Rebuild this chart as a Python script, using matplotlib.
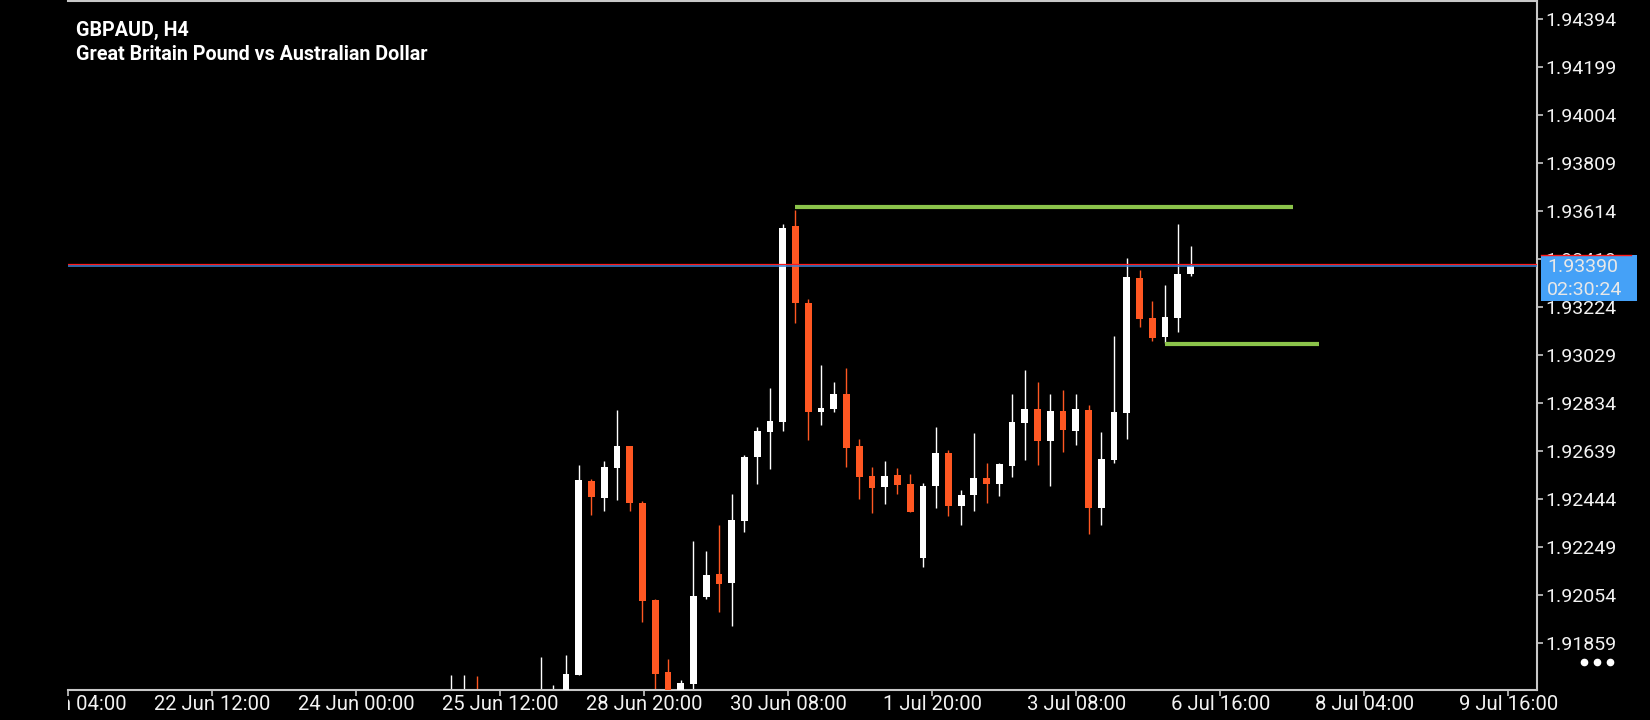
import matplotlib
matplotlib.use("Agg")
import matplotlib.pyplot as plt
import numpy as np
from matplotlib.patches import Rectangle
from matplotlib.lines import Line2D
from matplotlib.transforms import blended_transform_factory, Bbox, TransformedBbox

plt.rcParams['font.family'] = ['Roboto', 'DejaVu Sans']

symbol = "GBPAUD, H4"
description = "Great Britain Pound vs Australian Dollar"

# H4 candles, oldest first (first few sit mostly below the visible range)
opens = [1.91590, 1.91600, 1.91640, 1.91600, 1.91560, 1.91580, 1.91550, 1.91600, 1.91620, 1.91640,
         1.91729, 1.92517, 1.92449, 1.92571, 1.92659, 1.92429, 1.92034, 1.91741, 1.91640, 1.91694,
         1.92047, 1.92139, 1.92104, 1.92356, 1.92616, 1.92717, 1.92757, 1.93553, 1.93240, 1.92799,
         1.92811, 1.92871, 1.92659, 1.92537, 1.92494, 1.92542, 1.92505, 1.92206, 1.92498, 1.92631,
         1.92417, 1.92462, 1.92529, 1.92506, 1.92579, 1.92754, 1.92810, 1.92681, 1.92802, 1.92722,
         1.92806, 1.92409, 1.92604, 1.92795, 1.93342, 1.93179, 1.93103, 1.93181, 1.93359]
highs = [1.91729, 1.91729, 1.91725, 1.91650, 1.91620, 1.91640, 1.91610, 1.91802, 1.91688, 1.91810,
         1.92582, 1.92525, 1.92598, 1.92806, 1.92659, 1.92436, 1.92038, 1.91794, 1.91709, 1.92273,
         1.92233, 1.92338, 1.92464, 1.92623, 1.92737, 1.92895, 1.93561, 1.93618, 1.93257, 1.92988,
         1.92919, 1.92976, 1.92688, 1.92574, 1.92598, 1.92570, 1.92546, 1.92509, 1.92737, 1.92643,
         1.92482, 1.92712, 1.92590, 1.92590, 1.92871, 1.92968, 1.92919, 1.92871, 1.92887, 1.92871,
         1.92826, 1.92716, 1.93106, 1.93423, 1.93374, 1.93248, 1.93313, 1.93561, 1.93472]
lows = [1.91560, 1.91570, 1.91570, 1.91540, 1.91500, 1.91530, 1.91510, 1.91580, 1.91600, 1.91620,
        1.91729, 1.92379, 1.92395, 1.92440, 1.92395, 1.91946, 1.91650, 1.91610, 1.91620, 1.91665,
        1.92039, 1.91986, 1.91929, 1.92311, 1.92506, 1.92567, 1.92722, 1.93158, 1.92685, 1.92746,
        1.92799, 1.92575, 1.92445, 1.92388, 1.92425, 1.92466, 1.92393, 1.92169, 1.92409, 1.92376,
        1.92340, 1.92397, 1.92429, 1.92457, 1.92535, 1.92604, 1.92583, 1.92498, 1.92636, 1.92665,
        1.92303, 1.92340, 1.92592, 1.92689, 1.93144, 1.93087, 1.93079, 1.93124, 1.93351]
closes = [1.91640, 1.91650, 1.91600, 1.91560, 1.91580, 1.91550, 1.91590, 1.91640, 1.91660, 1.91733,
          1.92521, 1.92453, 1.92574, 1.92659, 1.92429, 1.92031, 1.91734, 1.91640, 1.91697, 1.92050,
          1.92135, 1.92100, 1.92359, 1.92615, 1.92720, 1.92761, 1.93545, 1.93242, 1.92799, 1.92814,
          1.92871, 1.92652, 1.92535, 1.92490, 1.92537, 1.92502, 1.92393, 1.92497, 1.92631, 1.92417,
          1.92460, 1.92529, 1.92506, 1.92586, 1.92757, 1.92810, 1.92681, 1.92802, 1.92726, 1.92810,
          1.92409, 1.92607, 1.92797, 1.93346, 1.93177, 1.93099, 1.93183, 1.93358, 1.93390]

bid = 1.93390
ask = 1.93397
timer = "02:30:24"

# horizontal levels drawn by the user: price, start bar, end bar
resistance = 1.93630
resistance_bars = (26.98, 66.0)
support = 1.93074
support_bars = (55.98, 68.1)

price_ticks = [1.94394, 1.94199, 1.94004, 1.93809, 1.93614, 1.93419, 1.93224,
               1.93029, 1.92834, 1.92639, 1.92444, 1.92249, 1.92054, 1.91859]
time_labels = ["21 Jun 04:00", "22 Jun 12:00", "24 Jun 00:00", "25 Jun 12:00", "28 Jun 20:00",
               "30 Jun 08:00", "1 Jul 20:00", "3 Jul 08:00", "6 Jul 16:00", "8 Jul 04:00", "9 Jul 16:00"]

W, H = 1650, 720
fig = plt.figure(figsize=(W / 100, H / 100), dpi=100, facecolor='black')
ax = fig.add_axes([68 / W, 30 / H, 1469 / W, 689 / H])
ax.set_facecolor('black')
ax.set_xlim(-30.04, 85.18)
ax.set_ylim(1.91668, 1.94467)

o = np.array(opens)
h = np.array(highs)
l = np.array(lows)
c = np.array(closes)
x = np.arange(len(o))
cols = np.where(c >= o, '#ffffff', '#ff5722')

ax.vlines(x, l, h, colors=cols, lw=1.0, zorder=2)
ax.bar(x, np.abs(c - o), bottom=np.minimum(o, c), width=0.53, color=cols, lw=0, zorder=3)

# bid / ask lines
ax.axhline(ask, color='#ff1a1a', lw=0.9, zorder=4)
ax.axhline(bid, color='#3f82d4', lw=1.1, zorder=4)

# levels
ax.hlines(resistance, *resistance_bars, color='#8bc34a', lw=3, zorder=5)
ax.hlines(support, *support_bars, color='#8bc34a', lw=3, zorder=5)

# frame
ax.spines['left'].set_visible(False)
for s in ['top', 'right', 'bottom']:
    ax.spines[s].set_color('#c8c8c8')
    ax.spines[s].set_linewidth(1.5)

ax.yaxis.tick_right()
ax.set_yticks(price_ticks)
ax.set_yticklabels([f"{v:.5f}" for v in price_ticks])
ax.tick_params(axis='y', direction='out', length=4, width=1.2, color='#c8c8c8',
               labelcolor='#f2f2f2', labelsize=14, pad=2)

tick_pos = [-30.07 + 11.3 * k for k in range(len(time_labels))]
ax.set_xticks(tick_pos)
ax.set_xticklabels([])
ax.tick_params(axis='x', direction='out', length=4, width=1.2, color='#c8c8c8')

clip = TransformedBbox(Bbox([[68 / W, 0], [1, 1]]), fig.transFigure)
xtrans = blended_transform_factory(ax.transData, fig.transFigure)
for pos, lab in zip(tick_pos, time_labels):
    t = ax.text(pos, 1 - 704 / H, lab, transform=xtrans, ha='center', va='center',
                color='#f2f2f2', fontsize=14.6)
    t.set_clip_on(True)
    t.set_clip_box(clip)

# current price label on the right
ymin, ymax = ax.get_ylim()
ypp = (ymax - ymin) / 689
ptrans = blended_transform_factory(fig.transFigure, ax.transData)
box = Rectangle((1541 / W, bid - 35 * ypp), 96 / W, 46 * ypp, transform=ptrans,
                facecolor='#45a1f7', edgecolor='none', zorder=10)
fig.add_artist(box)
fig.add_artist(Line2D([1541 / W, 1631 / W], [bid + 11.5 * ypp] * 2, transform=ptrans,
                      color='#ff1a1a', lw=1.0, zorder=11))
fig.text(1547 / W, bid - 1 * ypp, f"{bid:.5f}", transform=ptrans, ha='left', va='center',
         color='#e8e8e8', fontsize=14, zorder=12)
fig.text(1547 / W, bid - 23.5 * ypp, timer, transform=ptrans, ha='left', va='center',
         color='#e8e8e8', fontsize=14, zorder=12)

# menu dots
fig.add_artist(Line2D([1584 / W, 1597 / W, 1610 / W], [1 - 662 / H] * 3, transform=fig.transFigure,
                      marker='o', ls='none', ms=4.5, color='white'))

# title
fig.text(76 / W, 1 - 36 / H, symbol, color='white', fontsize=14.2, fontweight='bold', va='baseline')
fig.text(76 / W, 1 - 60 / H, description, color='white', fontsize=14.2, fontweight='bold', va='baseline')

fig.savefig("out.png", dpi=100, facecolor='black')
